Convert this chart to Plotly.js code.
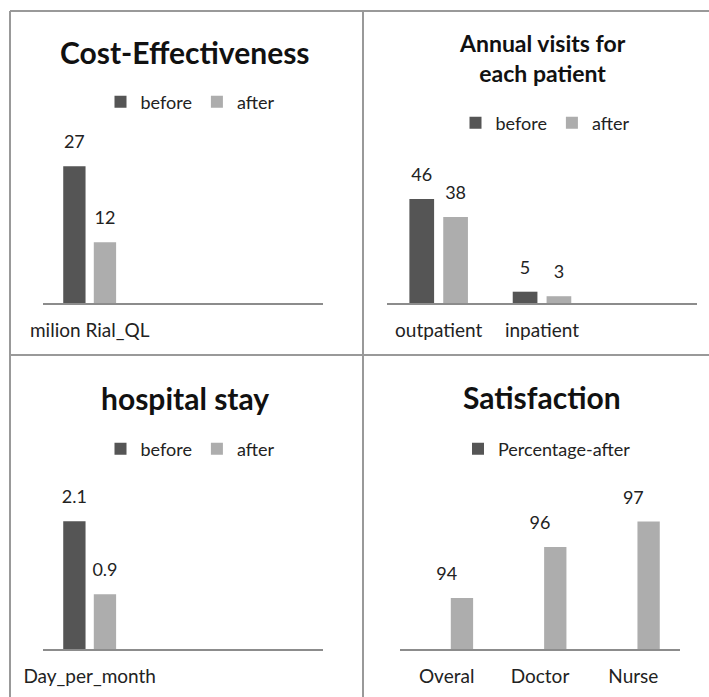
<!DOCTYPE html>
<html>
<head>
<meta charset="utf-8">
<script src="https://cdn.plot.ly/plotly-3.0.1.min.js"></script>
<style>html,body{margin:0;padding:0;background:#fff;}#chart{width:709px;height:697px;}</style>
</head>
<body>
<div id="chart"></div>
<script>
// ---- data ----
const costCategories = ['milion Rial_QL'];
const costBefore = [27];
const costAfter = [12];

const visitCategories = ['outpatient', 'inpatient'];
const visitBefore = [46, 5];
const visitAfter = [38, 3];

const stayCategories = ['Day_per_month'];
const stayBefore = [2.1];
const stayAfter = [0.9];

const satCategories = ['Overal', 'Doctor', 'Nurse'];
const satEmpty = [null, null, null];
const satAfter = [94, 96, 97];

const seriesNames = ['before', 'after'];
const satLegendName = 'Percentage-after';
const titles = ['Cost-Effectiveness', 'Annual visits for<br>each patient', 'hospital stay', 'Satisfaction'];

// ---- styles ----
const FONT = 'Lato, "Open Sans", sans-serif';
const DARK = '#555555';
const LIGHT = '#adadad';
const W = 709, H = 697;
const px = v => v / W;
const py = v => 1 - v / H;

function barTrace(x, y, name, color, xa, ya, legend, showlegend) {
  return {
    type: 'bar', x: x, y: y, name: name,
    xaxis: xa, yaxis: ya, legend: legend, showlegend: showlegend,
    marker: {color: color, line: {width: 0}},
    hoverinfo: 'skip'
  };
}
function labelTrace(x, y, xa, ya) {
  return {
    type: 'scatter', mode: 'markers+text', x: x, y: y,
    xaxis: xa, yaxis: ya, showlegend: false, cliponaxis: false,
    texttemplate: '%{y}', textposition: 'top center',
    textfont: {family: FONT, size: 18, color: '#222'},
    marker: {size: 20, opacity: 0}, hoverinfo: 'skip'
  };
}

const data = [
  barTrace(costCategories, costBefore, seriesNames[0], DARK, 'x', 'y', 'legend', true),
  barTrace(costCategories, costAfter, seriesNames[1], LIGHT, 'x', 'y', 'legend', true),
  barTrace(visitCategories, visitBefore, seriesNames[0], DARK, 'x2', 'y2', 'legend2', true),
  barTrace(visitCategories, visitAfter, seriesNames[1], LIGHT, 'x2', 'y2', 'legend2', true),
  barTrace(stayCategories, stayBefore, seriesNames[0], DARK, 'x3', 'y3', 'legend3', true),
  barTrace(stayCategories, stayAfter, seriesNames[1], LIGHT, 'x3', 'y3', 'legend3', true),
  barTrace(satCategories, satEmpty, satLegendName, DARK, 'x4', 'y4', 'legend4', true),
  barTrace(satCategories, satAfter, satLegendName, LIGHT, 'x4', 'y4', 'legend4', false),
  labelTrace(costCategories, costBefore, 'x', 'y'),
  labelTrace(costCategories, costAfter, 'x', 'y'),
  labelTrace(visitCategories, visitBefore, 'x2', 'y2'),
  labelTrace(visitCategories, visitAfter, 'x2', 'y2'),
  labelTrace(stayCategories, stayBefore, 'x3', 'y3'),
  labelTrace(stayCategories, stayAfter, 'x3', 'y3'),
  labelTrace(satCategories, satEmpty, 'x4', 'y4'),
  labelTrace(satCategories, satAfter, 'x4', 'y4')
];

function xAxis(d) {
  return {
    domain: d, type: 'category', range: [-0.5, 2.5], fixedrange: true,
    showline: true, linecolor: '#8c8c8c', linewidth: 1.5,
    showgrid: false, zeroline: false, ticks: '', ticklabelstandoff: 10,
    tickfont: {family: FONT, size: 19, color: '#222'}
  };
}
function yAxis(d, r, anchor) {
  return {domain: d, range: r, visible: false, showgrid: false, zeroline: false, anchor: anchor, fixedrange: true};
}
function legend(x, y) {
  return {
    x: x, y: y, xanchor: 'center', yanchor: 'middle', orientation: 'h',
    font: {family: FONT, size: 18, color: '#222'}, bgcolor: 'rgba(0,0,0,0)',
    itemwidth: 30, tracegroupgap: 0, traceorder: 'normal'
  };
}
function title(text, x, y, size) {
  return {text: '<b>' + text + '</b>', x: x, y: y, xref: 'paper', yref: 'paper',
    xanchor: 'center', yanchor: 'middle', showarrow: false,
    font: {family: FONT, size: size, color: '#111'}};
}
const BORDER = {color: '#999', width: 2};
function line(x0, y0, x1, y1) {
  return {type: 'line', xref: 'paper', yref: 'paper', x0: px(x0), y0: py(y0), x1: px(x1), y1: py(y1), line: BORDER};
}

const layout = {
  width: W, height: H, margin: {l: 0, r: 0, t: 0, b: 0},
  paper_bgcolor: '#fff', plot_bgcolor: 'rgba(0,0,0,0)',
  barmode: 'group', bargap: 0.345, bargroupgap: 0.27,
  scattermode: 'group', scattergap: 0.345,
  xaxis: Object.assign(xAxis([px(43), px(323)]), {anchor: 'y'}),
  yaxis: yAxis([py(303), py(151)], [0, 30], 'x'),
  xaxis2: Object.assign(xAxis([px(387), px(697)]), {anchor: 'y2'}),
  yaxis2: yAxis([py(303), py(190)], [0, 50], 'x2'),
  xaxis3: Object.assign(xAxis([px(43), px(323)]), {anchor: 'y3'}),
  yaxis3: yAxis([py(649), py(497)], [0, 2.5], 'x3'),
  xaxis4: Object.assign(xAxis([px(400), px(680)]), {anchor: 'y4'}),
  yaxis4: yAxis([py(649), py(496)], [92, 98], 'x4'),
  legend: legend(px(190), py(102)),
  legend2: legend(px(545), py(123)),
  legend3: legend(px(190), py(449)),
  legend4: legend(px(547), py(449)),
  annotations: [
    title(titles[0], px(185), py(52), 30),
    title(titles[1], px(542), py(58), 23),
    title(titles[2], px(185), py(398), 30),
    title(titles[3], px(542), py(397), 30)
  ],
  shapes: [
    line(10, 11, 709, 11),
    line(10, 11, 10, 697),
    line(363, 11, 363, 697),
    line(10, 355, 709, 355)
  ],
  showlegend: true
};

Plotly.newPlot('chart', data, layout, {displayModeBar: false, staticPlot: true});
</script>
</body>
</html>
